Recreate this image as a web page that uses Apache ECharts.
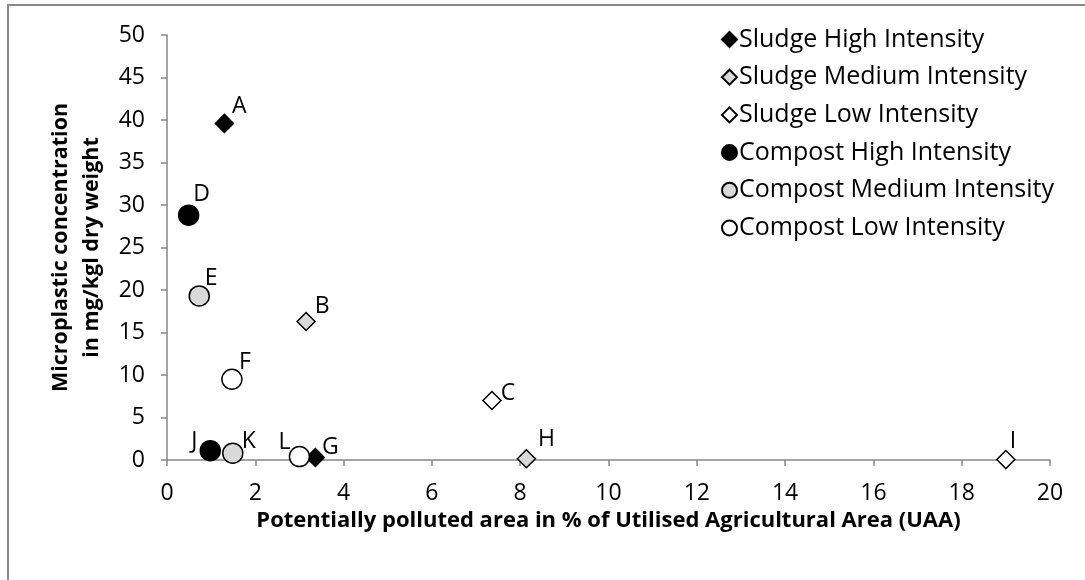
<!DOCTYPE html>
<html>
<head>
<meta charset="utf-8">
<script src="https://cdn.jsdelivr.net/npm/echarts@6/dist/echarts.min.js"></script>
<style>
  html, body { margin: 0; padding: 0; background: #fff; }
  #chart { width: 1085px; height: 580px; }
  .frame {
    position: absolute; left: 7px; top: 4px; right: 0; bottom: 0;
    border-left: 2px solid #8a8a8a; border-top: 2px solid #8a8a8a;
    pointer-events: none;
  }
</style>
</head>
<body>
<div id="chart"></div>
<div class="frame"></div>
<script>
// points: [x %, y mg/kg, label]
const sludgeHigh = [[1.30, 39.6, 'A'], [3.36, 0.3, 'G']]
const sludgeMedium = [[3.15, 16.3, 'B'], [8.14, 0.15, 'H']]
const sludgeLow = [[7.36, 7.0, 'C'], [19.0, 0.05, 'I']]
const compostHigh = [[0.49, 28.8, 'D'], [0.98, 1.1, 'J']]
const compostMedium = [[0.73, 19.3, 'E'], [1.49, 0.8, 'K']]
const compostLow = [[1.47, 9.5, 'F'], [3.0, 0.4, 'L']]

const seriesNames = [
  'Sludge High Intensity', 'Sludge Medium Intensity', 'Sludge Low Intensity',
  'Compost High Intensity', 'Compost Medium Intensity', 'Compost Low Intensity'
]

// label offsets relative to the marker (px)
const labelOffsets = {
  A: [15, -17], B: [16, -15], C: [16, -7], D: [13, -21], E: [12, -17], F: [13, -17],
  G: [15, -10], H: [20, -19], I: [7, -18], J: [-16, -9], K: [16, -12], L: [-15, -14]
}

const FONT = 'Open Sans'

const makeSeries = (name, pts, symbol, fill, size) => ({
  name: name,
  type: 'scatter',
  symbol: symbol,
  symbolSize: size,
  itemStyle: { color: fill, borderColor: '#000', borderWidth: 1.5, opacity: 1 },
  data: pts.map(p => ({
    value: [p[0], p[1]],
    label: {
      show: true,
      formatter: p[2],
      position: 'inside',
      offset: labelOffsets[p[2]],
      color: '#000',
      fontSize: 23,
      fontFamily: FONT
    }
  }))
})

const chart = echarts.init(document.getElementById('chart'))

chart.setOption({
  animation: false,
  textStyle: { fontFamily: FONT },
  grid: { left: 167, right: 35, top: 35, bottom: 120 },
  legend: {
    data: seriesNames,
    orient: 'vertical',
    left: 716,
    top: 22,
    itemWidth: 15,
    itemHeight: 15,
    itemGap: 12.7,
    textStyle: { fontSize: 25, color: '#000', fontFamily: FONT, padding: [0, 0, 0, -3] }
  },
  xAxis: {
    type: 'value',
    min: 0,
    max: 20,
    interval: 2,
    name: 'Potentially polluted area in % of Utilised Agricultural Area (UAA)',
    nameLocation: 'middle',
    nameGap: 34,
    nameTextStyle: { fontSize: 22, fontWeight: 'bold', color: '#000', fontFamily: FONT },
    splitLine: { show: false },
    axisLine: { lineStyle: { color: '#868686', width: 1.5 } },
    axisTick: { show: true, length: 6, lineStyle: { color: '#868686', width: 1.5 } },
    axisLabel: { fontSize: 23, color: '#000', margin: 22, fontFamily: FONT }
  },
  yAxis: {
    type: 'value',
    min: 0,
    max: 50,
    interval: 5,
    name: 'Microplastic concentration\nin mg/kgl dry weight',
    nameLocation: 'middle',
    nameGap: 60,
    nameTextStyle: { fontSize: 21.5, fontWeight: 'bold', color: '#000', fontFamily: FONT, lineHeight: 31 },
    splitLine: { show: false },
    axisLine: { show: true, lineStyle: { color: '#868686', width: 1.5 } },
    axisTick: { show: true, length: 6, lineStyle: { color: '#868686', width: 1.5 } },
    axisLabel: { fontSize: 23, color: '#000', margin: 22, fontFamily: FONT }
  },
  series: [
    makeSeries(seriesNames[0], sludgeHigh, 'diamond', '#000', 18),
    makeSeries(seriesNames[1], sludgeMedium, 'diamond', '#d9d9d9', 18),
    makeSeries(seriesNames[2], sludgeLow, 'diamond', '#fff', 18),
    makeSeries(seriesNames[3], compostHigh, 'circle', '#000', 20),
    makeSeries(seriesNames[4], compostMedium, 'circle', '#d9d9d9', 20),
    makeSeries(seriesNames[5], compostLow, 'circle', '#fff', 20)
  ]
})
</script>
</body>
</html>
